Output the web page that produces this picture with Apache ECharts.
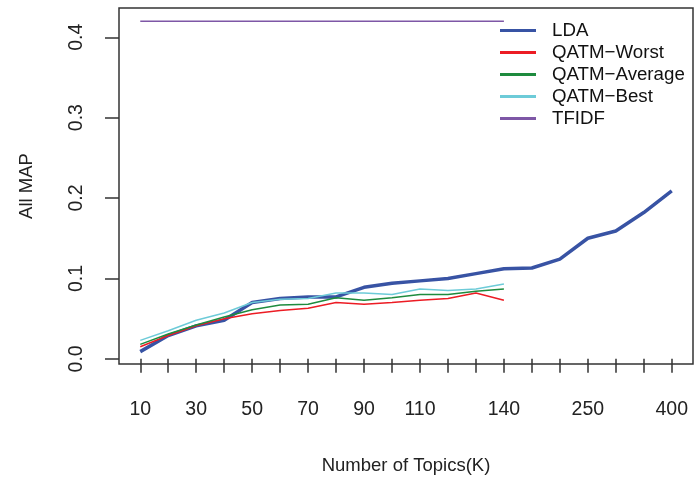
<!DOCTYPE html>
<html>
<head>
<meta charset="utf-8">
<script src="https://cdn.jsdelivr.net/npm/echarts@6/dist/echarts.min.js"></script>
<style>html,body{margin:0;padding:0;background:#fff}#c{width:695px;height:478px}</style>
</head>
<body>
<div id="c"></div>
<script>
var categories = ['10','20','30','40','50','60','70','80','90','100','110','120','130','140','150','200','250','300','350','400'];
var xTickLabels = ['10','30','50','70','90','110','140','250','400'];
var yTickLabels = [0.0, 0.1, 0.2, 0.3, 0.4];
var lda = [0.009,0.029,0.041,0.048,0.070,0.075,0.077,0.077,0.089,0.094,0.097,0.100,0.106,0.112,0.113,0.124,0.150,0.159,0.182,0.209];
var qatmWorst = [0.015,0.029,0.041,0.050,0.056,0.060,0.063,0.070,0.068,0.070,0.073,0.075,0.082,0.073];
var qatmAverage = [0.018,0.031,0.042,0.052,0.061,0.067,0.068,0.076,0.073,0.076,0.080,0.080,0.084,0.087];
var qatmBest = [0.023,0.035,0.048,0.057,0.070,0.074,0.075,0.082,0.082,0.080,0.087,0.085,0.087,0.093];
var tfidf = [0.42,0.42,0.42,0.42,0.42,0.42,0.42,0.42,0.42,0.42,0.42,0.42,0.42,0.42];

var FONT = '"Liberation Sans", Arial, sans-serif';
function pts(arr){ return arr.map(function(v,i){ return [i+1, v]; }); }
var xTickVals = categories.map(function(c,i){ return i+1; });
var xLabelVals = xTickLabels.map(function(l){ return categories.indexOf(l)+1; });

var chart = echarts.init(document.getElementById('c'), null, {renderer:'canvas'});
chart.setOption({
  animation:false,
  backgroundColor:'#fff',
  grid:{left:119, right:2, top:8, bottom:114, show:true, borderColor:'#333', borderWidth:1.5, backgroundColor:'transparent', outerBoundsMode:'none', containLabel:false},
  legend:{
    orient:'vertical', left:500, top:21, padding:0, itemWidth:36, itemHeight:3, itemGap:3,
    icon:'rect',
    textStyle:{fontFamily:FONT, fontSize:18.7, color:'#111', padding:[0,0,0,11]},
    data:[
      {name:'LDA', itemStyle:{color:'#3853a4'}},
      {name:'QATM\u2212Worst', itemStyle:{color:'#ec1c24'}},
      {name:'QATM\u2212Average', itemStyle:{color:'#1e8b3e'}},
      {name:'QATM\u2212Best', itemStyle:{color:'#6dcbd8'}},
      {name:'TFIDF', itemStyle:{color:'#7e57a6'}}
    ]
  },
  xAxis:{
    type:'value', min:0.24, max:20.76,
    name:'Number of Topics(K)', nameLocation:'middle', nameGap:92,
    nameTextStyle:{fontFamily:FONT, fontSize:18.5, color:'#222'},
    axisLine:{show:false},
    axisTick:{show:true, length:14, customValues:xTickVals, lineStyle:{color:'#333', width:1.5}},
    axisLabel:{customValues:xLabelVals, margin:36, fontFamily:FONT, fontSize:19.5, color:'#222',
      formatter:function(v){ return categories[Math.round(v)-1]; }},
    splitLine:{show:false}
  },
  yAxis:{
    type:'value', min:-0.0064, max:0.4364,
    name:'All MAP', nameLocation:'middle', nameGap:83, nameRotate:90,
    nameTextStyle:{fontFamily:FONT, fontSize:18.5, color:'#222'},
    axisLine:{show:false},
    axisTick:{show:true, length:14, customValues:yTickLabels, lineStyle:{color:'#333', width:1.5}},
    axisLabel:{customValues:yTickLabels, rotate:90, margin:32, fontFamily:FONT, fontSize:19.5, color:'#222',
      formatter:function(v){ return v.toFixed(1); }},
    splitLine:{show:false}
  },
  series:[
    {name:'LDA', type:'line', data:pts(lda), symbol:'none', lineStyle:{color:'#3853a4', width:3.5}, itemStyle:{color:'#3853a4'}},
    {name:'QATM\u2212Worst', type:'line', data:pts(qatmWorst), symbol:'none', lineStyle:{color:'#ec1c24', width:1.5}, itemStyle:{color:'#ec1c24'}},
    {name:'QATM\u2212Average', type:'line', data:pts(qatmAverage), symbol:'none', lineStyle:{color:'#1e8b3e', width:1.5}, itemStyle:{color:'#1e8b3e'}},
    {name:'QATM\u2212Best', type:'line', data:pts(qatmBest), symbol:'none', lineStyle:{color:'#6dcbd8', width:1.5}, itemStyle:{color:'#6dcbd8'}},
    {name:'TFIDF', type:'line', data:pts(tfidf), symbol:'none', lineStyle:{color:'#7e57a6', width:1.5}, itemStyle:{color:'#7e57a6'}}
  ]
});
</script>
</body>
</html>
